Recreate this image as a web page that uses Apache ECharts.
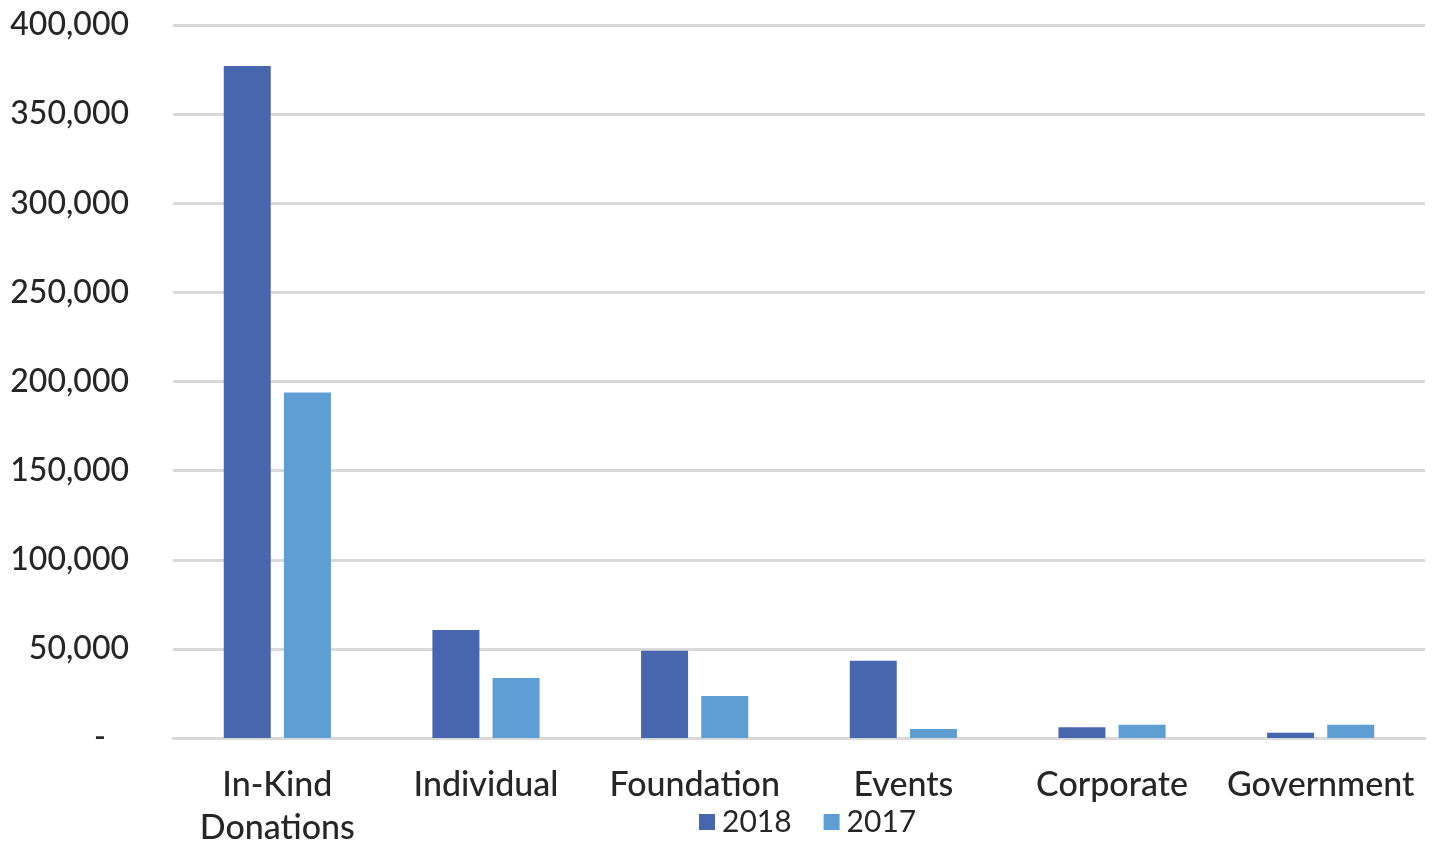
<!DOCTYPE html>
<html>
<head>
<meta charset="utf-8">
<script src="https://cdn.jsdelivr.net/npm/echarts@6/dist/echarts.min.js"></script>
<style>
  html, body { margin: 0; padding: 0; background: #fff; }
  #chart { width: 1438px; height: 846px; }
</style>
</head>
<body>
<div id="chart"></div>
<script>
// data
const categories = ["In-Kind\nDonations", "Individual", "Foundation", "Events", "Corporate", "Government"];
const values2018 = [377000, 60600, 49000, 43300, 6000, 3000];
const values2017 = [193800, 33700, 23600, 5000, 7400, 7400];
const yTicks = [0, 50000, 100000, 150000, 200000, 250000, 300000, 350000, 400000];

const myChart = echarts.init(document.getElementById("chart"));

const fontFamily = "Lato, 'Open Sans', sans-serif";
const textColor = "#262626";

const option = {
  animation: false,
  grid: { left: 173, right: 13, top: 25, bottom: 108, containLabel: false, outerBoundsMode: "none" },
  legend: {
    data: ["2018", "2017"],
    left: 694,
    top: 802,
    itemWidth: 16,
    itemHeight: 16,
    itemGap: 32,
    icon: "rect",
    textStyle: { fontFamily, fontSize: 30, color: textColor, padding: [0, 0, 0, 2] }
  },
  xAxis: {
    type: "category",
    data: categories,
    axisTick: { show: false },
    axisLine: { lineStyle: { color: "#d9d9d9", width: 3 } },
    axisLabel: {
      fontFamily,
      fontSize: 34,
      fontWeight: 500,
      color: textColor,
      margin: 26,
      lineHeight: 43,
      interval: 0
    }
  },
  yAxis: {
    type: "value",
    min: yTicks[0],
    max: yTicks[yTicks.length - 1],
    interval: 50000,
    axisLine: { show: false },
    axisTick: { show: false },
    splitLine: { lineStyle: { color: "#d9d9d9", width: 3 } },
    axisLabel: {
      fontFamily,
      fontSize: 32,
      fontWeight: 500,
      color: textColor,
      margin: 44,
      // accounting style: zero shown as a dash, set in from the right edge
      formatter: v => (v === 0 ? "{dash|-}" : v.toLocaleString("en-US")),
      rich: {
        dash: { fontFamily, fontSize: 32, color: textColor, padding: [0, 23, 0, 0] }
      }
    }
  },
  series: [
    {
      name: "2018",
      type: "bar",
      data: values2018,
      barWidth: 47,
      barGap: "28%",
      itemStyle: { color: "#4866ad" }
    },
    {
      name: "2017",
      type: "bar",
      data: values2017,
      barWidth: 47,
      itemStyle: { color: "#5e9ed3" }
    }
  ]
};

myChart.setOption(option);
</script>
</body>
</html>
